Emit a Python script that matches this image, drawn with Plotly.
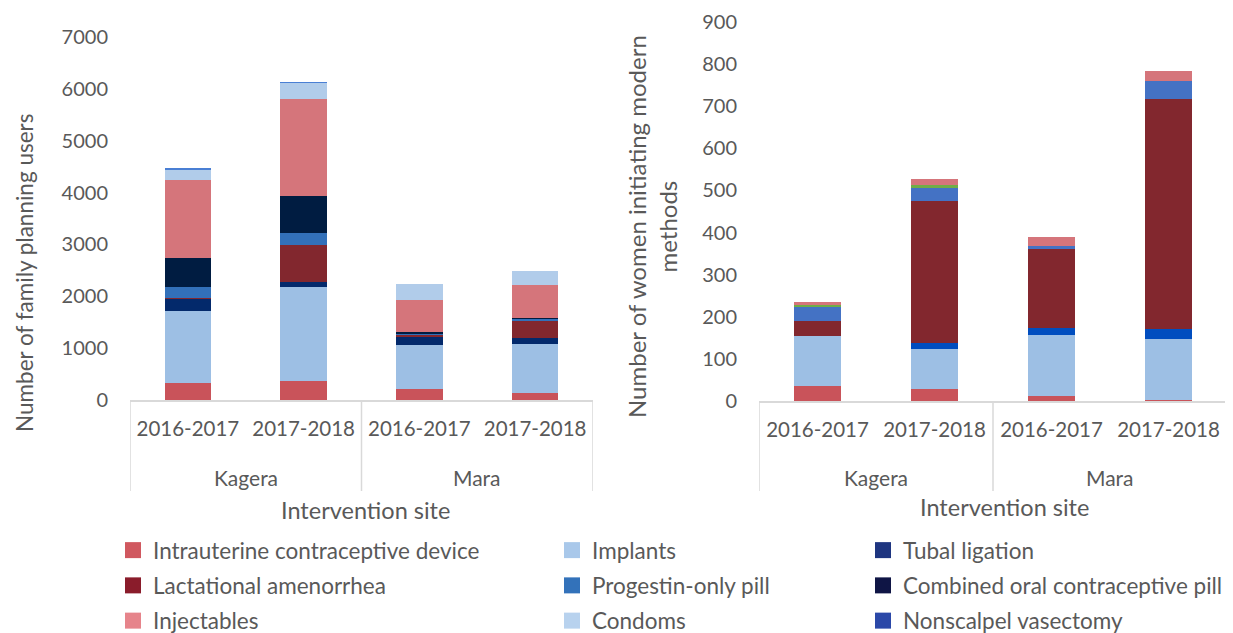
import plotly.graph_objects as go

sites = ["Kagera", "Kagera", "Mara", "Mara"]
periods = ["2016-2017", "2017-2018", "2016-2017", "2017-2018"]

methods = ["Intrauterine contraceptive device", "Implants", "Tubal ligation",
           "Lactational amenorrhea", "Progestin-only pill",
           "Combined oral contraceptive pill", "Injectables", "Condoms",
           "Nonscalpel vasectomy"]

# Left chart: number of family planning users
users_iud = [320, 367, 212, 129]
users_implants = [1390, 1812, 849, 957]
users_tubal = [243, 103, 160, 116]
users_lam = [20, 714, 39, 328]
users_pop = [200, 230, 26, 32]
users_coc = [559, 714, 25, 25]
users_inject = [1516, 1864, 617, 624]
users_condoms = [193, 315, 315, 277]
users_vasectomy = [25, 13, 0, 0]

# Right chart: number of women initiating modern methods
init_iud = [36, 29, 13, 3]
init_implants = [118, 94, 144, 145]
init_tubal = [0, 15, 17, 22]
init_lam = [36, 337, 186, 546]
init_pop = [34, 33, 9, 45]
init_coc = [5, 4, 0, 0]
init_inject = [6, 15, 20, 23]

left_colors = ["#C9535A", "#9DBFE4", "#03296B", "#82272E", "#3270B9",
               "#001C41", "#D5757B", "#B1CCEA", "#4A7FD4"]
legend_colors = ["#D0585F", "#A9C8EA", "#1E3580", "#8A1C2B", "#3372BA",
                 "#0F1545", "#E6848B", "#B8D2EE", "#2B48A8"]
right_colors = {"Intrauterine contraceptive device": "#C9535A",
                "Implants": "#9DBFE4", "Tubal ligation": "#004DBF",
                "Lactational amenorrhea": "#82272E",
                "Progestin-only pill": "#4472C4",
                "Combined oral contraceptive pill": "#70AD47",
                "Injectables": "#D5757B"}

left_values = [users_iud, users_implants, users_tubal, users_lam, users_pop,
               users_coc, users_inject, users_condoms, users_vasectomy]
right_values = [init_iud, init_implants, init_tubal, init_lam, init_pop,
                init_coc, init_inject]

legend_of = {
    "Intrauterine contraceptive device": ("legend", 1),
    "Lactational amenorrhea": ("legend", 2),
    "Injectables": ("legend", 3),
    "Implants": ("legend2", 1),
    "Progestin-only pill": ("legend2", 2),
    "Condoms": ("legend2", 3),
    "Tubal ligation": ("legend3", 1),
    "Combined oral contraceptive pill": ("legend3", 2),
    "Nonscalpel vasectomy": ("legend3", 3),
}

TXT = "#595959"
FONT = "Lato"
OFF = 8                      # page body margin
W, H = 1233 - OFF, 633 - OFF


def fx(px):
    return (px - OFF) / W


def fy(py):
    return 1 - (py - OFF) / H


xpos = list(range(len(periods)))

fig = go.Figure()
for name, vals, col in zip(methods, left_values, left_colors):
    fig.add_trace(go.Bar(x=xpos, y=vals, name=name, marker_color=col,
                         marker_line_width=0, legendgroup=name,
                         showlegend=False, xaxis="x", yaxis="y"))
for name, vals in zip(methods[:7], right_values):
    fig.add_trace(go.Bar(x=xpos, y=vals, name=name,
                         marker_color=right_colors[name], marker_line_width=0,
                         legendgroup=name, showlegend=False,
                         xaxis="x2", yaxis="y2"))
# legend entries with larger square swatches
for name, col in zip(methods, legend_colors):
    lg, rank = legend_of[name]
    fig.add_trace(go.Scatter(x=[None], y=[None], mode="markers", name=name,
                             marker=dict(symbol="square", size=16, color=col),
                             legend=lg, legendrank=rank, legendgroup=name,
                             xaxis="x", yaxis="y"))

L_TOP, L_BOT = 37, 400
R_TOP, R_BOT = 22, 401
dom1 = [fx(130), fx(593)]
dom2 = [fx(759), fx(1227)]


def xaxis_cfg(dom):
    return dict(domain=dom, range=[-0.5, len(periods) - 0.5],
                tickvals=xpos, ticktext=periods, showgrid=False,
                zeroline=False, showline=True, linecolor="#D9D9D9",
                linewidth=1.5, ticks="", ticklabelstandoff=10,
                tickfont=dict(size=20.5, color=TXT, family=FONT),
                automargin=False, fixedrange=True)


yaxis_common = dict(showgrid=False, zeroline=False, showline=False, ticks="",
                    tickfont=dict(size=20, color=TXT, family=FONT),
                    ticklabelstandoff=21, automargin=False, fixedrange=True)

legend_common = dict(font=dict(size=22.5, color=TXT, family=FONT),
                     orientation="v", yanchor="top", y=fy(529),
                     tracegroupgap=3, bgcolor="rgba(0,0,0,0)",
                     xanchor="left", itemwidth=30)

fig.update_layout(
    width=W, height=H,
    margin=dict(l=0, r=0, t=0, b=0, autoexpand=False),
    paper_bgcolor="white", plot_bgcolor="white",
    barmode="stack", bargap=0.6,
    font=dict(family=FONT, color=TXT),
    xaxis=dict(anchor="y", **xaxis_cfg(dom1)),
    yaxis=dict(domain=[fy(L_BOT), fy(L_TOP)], anchor="x",
               range=[0, 7000], dtick=1000, **yaxis_common),
    xaxis2=dict(anchor="y2", **xaxis_cfg(dom2)),
    yaxis2=dict(domain=[fy(R_BOT), fy(R_TOP)], anchor="x2",
                range=[0, 900], dtick=100, **yaxis_common),
    legend=dict(x=fx(113), **legend_common),
    legend2=dict(x=fx(552), **legend_common),
    legend3=dict(x=fx(863), **legend_common),
)

# group labels, dividers and axis titles
groups = []
for i, s in enumerate(sites):
    if not groups or groups[-1][0] != s:
        groups.append([s, i, i])
    else:
        groups[-1][2] = i

annots = []
shapes = []
for xa, ybot in (("x", L_BOT), ("x2", R_BOT)):
    for s, i0, i1 in groups:
        annots.append(dict(xref=xa, yref="paper", x=(i0 + i1) / 2,
                           y=fy(477), text=s, showarrow=False,
                           xanchor="center", yanchor="middle",
                           font=dict(size=21, color=TXT, family=FONT)))
    bounds = sorted({g[1] - 0.5 for g in groups} | {g[2] + 0.5 for g in groups})
    for b in bounds:
        shapes.append(dict(type="line", xref=xa, yref="paper", x0=b, x1=b,
                           y0=fy(ybot), y1=fy(491),
                           line=dict(color="#D9D9D9", width=1.5)))

title_font = dict(size=23.5, color=TXT, family=FONT)
annots.append(dict(xref="paper", yref="paper", x=fx(365), y=fy(510),
                   text="Intervention site", showarrow=False,
                   xanchor="center", yanchor="middle", font=title_font))
annots.append(dict(xref="paper", yref="paper", x=fx(1004), y=fy(507),
                   text="Intervention site", showarrow=False,
                   xanchor="center", yanchor="middle", font=title_font))
annots.append(dict(xref="paper", yref="paper", x=fx(25), y=fy(273),
                   text="Number of family planning users", textangle=-90,
                   xanchor="center", yanchor="middle", showarrow=False,
                   font=dict(size=22.5, color=TXT, family=FONT)))
annots.append(dict(xref="paper", yref="paper", x=fx(652), y=fy(227),
                   text="Number of women initiating modern<br>methods",
                   textangle=-90, xanchor="center", yanchor="middle",
                   showarrow=False,
                   font=dict(size=24, color=TXT, family=FONT)))

fig.update_layout(annotations=annots, shapes=shapes)

fig.write_html("out.html")
